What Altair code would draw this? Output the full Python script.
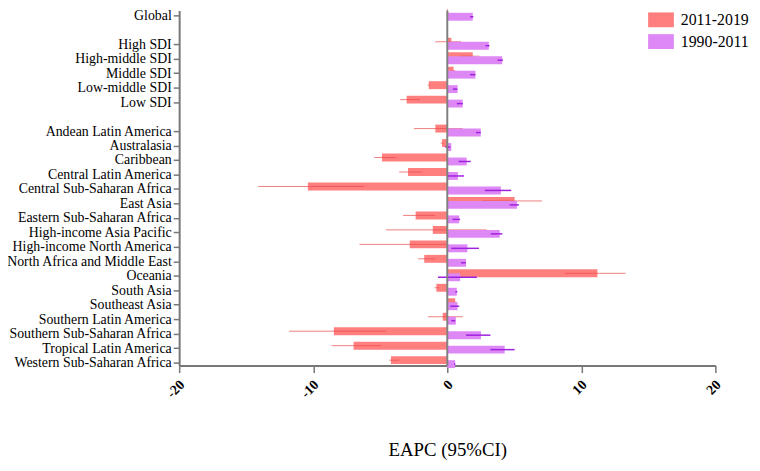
import altair as alt
import pandas as pd

regions = ["Global", " ", "High SDI", "High-middle SDI", "Middle SDI", "Low-middle SDI", "Low SDI", "  ",
           "Andean Latin America", "Australasia", "Caribbean", "Central Latin America",
           "Central Sub-Saharan Africa", "East Asia", "Eastern Sub-Saharan Africa",
           "High-income Asia Pacific", "High-income North America", "North Africa and Middle East",
           "Oceania", "South Asia", "Southeast Asia", "Southern Latin America",
           "Southern Sub-Saharan Africa", "Tropical Latin America", "Western Sub-Saharan Africa"]

labeled = [r for r in regions if r.strip()]

# 2011-2019 EAPC and 95% CI
eapc_2011 = [0.05, 0.3, 1.9, 0.47, -1.38, -3.03, -0.89, -0.39, -4.87, -2.93, -10.4, 5.02, -2.36,
             -1.08, -2.8, -1.72, 11.2, -0.81, 0.59, -0.34, -8.46, -6.99, -4.2]
low_2011 = [0.0, -0.89, 0.96, 0.35, -1.45, -3.52, -2.49, -0.5, -5.44, -3.59, -14.1, 2.63, -3.3,
            -4.58, -6.55, -2.17, 8.76, -0.95, 0.45, -1.43, -11.8, -8.63, -4.33]
high_2011 = [0.1, 1.03, 2.4, 0.6, -1.3, -2.04, 1.16, -0.28, -3.79, -1.87, -6.2, 7.06, -0.89,
             2.93, 0.0, -0.89, 13.3, -0.6, 0.7, 1.16, -4.58, -4.94, -3.59]

# 1990-2011 EAPC and 95% CI
eapc_1990 = [1.9, 3.1, 4.1, 2.1, 0.77, 1.15, 2.5, 0.3, 1.45, 0.79, 4.0, 5.2, 0.89,
             3.91, 1.5, 1.4, 0.96, 0.71, 0.76, 0.64, 2.51, 4.28, 0.59]
low_1990 = [1.7, 2.85, 3.75, 1.7, 0.42, 0.71, 2.14, -0.15, 0.84, 0.0, 2.8, 4.65, 0.39,
            3.25, 0.3, 1.03, -0.69, 0.6, 0.22, 0.3, 1.4, 3.22, 0.5]
high_1990 = [1.95, 3.15, 4.15, 2.1, 0.75, 1.16, 2.5, 0.22, 1.75, 1.25, 4.77, 5.34, 0.96,
             4.11, 2.36, 1.38, 2.21, 0.75, 0.89, 0.59, 3.22, 5.02, 0.6]

series = ["2011-2019", "1990-2011"]
colors = ["#FF7F7F", "#DD88F5"]

rows = []
for i, r in enumerate(labeled):
    rows.append({"region": r, "series": series[0], "eapc": eapc_2011[i], "low": low_2011[i], "high": high_2011[i]})
    rows.append({"region": r, "series": series[1], "eapc": eapc_1990[i], "low": low_1990[i], "high": high_1990[i]})
df = pd.DataFrame(rows)

FONT = "Liberation Serif"

yenc = alt.Y("region:N",
             scale=alt.Scale(type="point", domain=regions, padding=0.27, align=0.62),
             axis=alt.Axis(values=labeled, title=None, labelFont=FONT, labelFontSize=14,
                           labelColor="black", labelPadding=2, tickSize=6, tickColor="#777777",
                           tickWidth=1.5, domainColor="#777777", domainWidth=2, grid=False))

xscale = alt.Scale(domain=[-20, 20], nice=False)
xaxis = alt.Axis(values=[-20, -10, 0, 10, 20], title="EAPC (95%CI)", grid=False,
                 labelExpr="datum.value < 0 ? '-' + abs(datum.value) : '' + datum.value",
                 labelAngle=315, labelAlign="right", labelBaseline="middle",
                 labelFont=FONT, labelFontSize=14, labelFontWeight="bold", labelColor="black",
                 labelPadding=10, labelOffset=3, tickSize=7, tickColor="#777777", tickWidth=1.5,
                 domainColor="#777777", domainWidth=2,
                 titleFont=FONT, titleFontSize=19, titleFontWeight="normal", titleColor="black",
                 titleY=95, titleBaseline="bottom")

color = alt.Color("series:N", scale=alt.Scale(domain=series, range=colors),
                  legend=alt.Legend(title=None, orient="none", legendX=474, legendY=-3.5,
                                    symbolType="M-1,-0.577H1V0.577H-1Z", symbolSize=676,
                                    symbolStrokeWidth=0, symbolOpacity=1,
                                    labelFont=FONT, labelFontSize=16, labelColor="black",
                                    labelOffset=7, rowPadding=1))

base = alt.Chart(df)

red_bar = base.transform_filter(alt.datum.series == series[0]).mark_bar(size=8, yOffset=-2.5, opacity=1).encode(
    x=alt.X("eapc:Q", scale=xscale, axis=xaxis), y=yenc, color=color)
red_err = base.transform_filter(alt.datum.series == series[0]).mark_rule(
    yOffset=-2.5, color="#E84848", opacity=0.7, strokeWidth=1).encode(
    x="low:Q", x2="high:Q", y=yenc)
pur_bar = base.transform_filter(alt.datum.series == series[1]).mark_bar(size=8, yOffset=1.5, opacity=1).encode(
    x=alt.X("eapc:Q", scale=xscale, axis=xaxis), y=yenc, color=color)
pur_err = base.transform_filter(alt.datum.series == series[1]).mark_rule(
    yOffset=1.5, color="#A020E0", strokeWidth=1.5).encode(
    x="low:Q", x2="high:Q", y=yenc)
zero = alt.Chart(pd.DataFrame({"z": [0]})).mark_rule(color="#808080", strokeWidth=2).encode(
    x=alt.X("z:Q", scale=xscale))

chart = alt.layer(red_bar, red_err, pur_bar, pur_err, zero).properties(
    width=542, height=359,
    autosize=alt.AutoSizeParams(type="none"),
    padding={"left": 173, "top": 0, "right": 37, "bottom": 96},
).configure_view(stroke=None)

chart.save("out.html", embed_options={"renderer": "svg", "actions": False})
